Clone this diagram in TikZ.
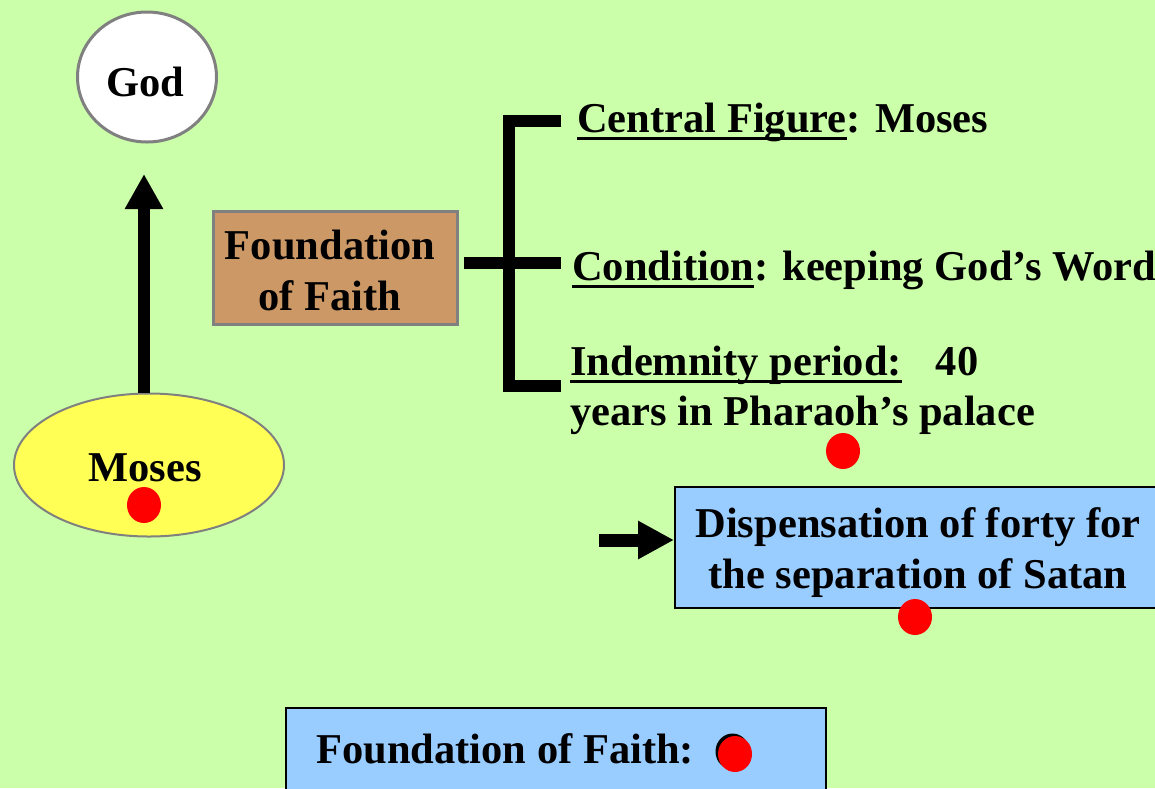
\documentclass[tikz,border=0pt]{standalone}
\usepackage{fontspec}
\setmainfont{Liberation Serif}
\usetikzlibrary{shapes.geometric,arrows.meta}
\definecolor{bg}{RGB}{204,255,170}
\definecolor{bordergray}{RGB}{128,128,128}
\definecolor{mosesyellow}{RGB}{255,255,85}
\definecolor{fofbrown}{RGB}{204,153,102}
\definecolor{boxblue}{RGB}{153,204,255}
\newsavebox\ulbox
\newcommand\ulrule[1]{\sbox\ulbox{#1}\rlap{\rule[-8pt]{\wd\ulbox}{3pt}}\usebox\ulbox}
\begin{document}
\begin{tikzpicture}[x=1pt,y=-1pt,
  txt/.style={font=\fontsize{42.5}{51}\selectfont\bfseries, inner sep=0pt},
  reddot/.style={ellipse, fill=red, minimum width=34pt, minimum height=36pt, inner sep=0pt},
  fatarrow/.style={line width=12pt, -{Triangle[length=35pt,width=36pt]}},
  bracketline/.style={line width=12pt},
  bluebox/.style={rectangle, draw=black, line width=2pt, fill=boxblue, inner sep=0pt}]
\useasboundingbox (0,0) rectangle (1155,788);
\fill[bg] (0,0) rectangle (1155,788);

% God
\node[ellipse, draw=bordergray, line width=3pt, fill=white, minimum width=139pt, minimum height=130pt, inner sep=0pt] (god) at (147,77) {};
\node[txt, anchor=base] (godlabel) at (145,96) {God};

% Moses
\node[ellipse, draw=bordergray, line width=2pt, fill=mosesyellow, minimum width=270pt, minimum height=143pt, inner sep=0pt] (moses) at (149,465) {};
\node[txt, anchor=base] (moseslabel) at (145,481) {Moses};
\node[reddot] (dot1) at (144,505) {};

\coordinate (godtip) at (144,174);
\draw[fatarrow] (godtip |- moses.north) -- (godtip);

% Foundation of Faith box
\node[rectangle, draw=bordergray, line width=3pt, fill=fofbrown, minimum width=244pt, minimum height=113pt, inner sep=0pt] (fof) at (335.5,268) {};
\node[txt, align=center] (foflabel) at (330,270) {Foundation\\of Faith};

% bracket
\coordinate (bt) at (561,121);
\coordinate (bm) at (561,263);
\coordinate (bb) at (561,386);
\draw[bracketline, line join=miter] (bt) -- (509,121) -- (509,386) -- (bb);
\draw[bracketline] ([xshift=5pt]fof.east |- bm) -- (bm);

\node[txt, anchor=base west] (central) at (577,132) {\ulrule{Central Figure}: Moses};
\node[txt, anchor=base west] (condition) at (572,280) {\ulrule{Condition}: keeping God’s Word};
\node[txt, anchor=base west] (indem) at (570,375) {\ulrule{Indemnity period:}\hspace{34pt}40};
\node[txt, anchor=base west] (years) at (570,425) {years in Pharaoh’s palace};
\node[reddot] (dot2) at (843,451) {};

% Dispensation box
\node[bluebox, minimum width=482pt, minimum height=121pt] (disp) at (916,547.5) {};
\node[txt, align=center] (displabel) at (918,552.5) {Dispensation of forty for\\the separation of Satan};
\node[reddot] (dot3) at (915,617) {};
\coordinate (arrtail) at (599,540);
\draw[line width=13pt, -{Triangle[length=36pt,width=36pt]}] (arrtail) -- (arrtail -| disp.west);

% bottom box
\node[bluebox, minimum width=540pt, minimum height=110pt] (fofbox) at (555.5,763) {};
\node[txt, anchor=base west] (foflabel2) at (316,763) {Foundation of Faith:};
\node[ellipse, fill=black, minimum width=34pt, minimum height=36pt, inner sep=0pt] (dot4shadow) at (732.5,751.5) {};
\node[reddot] (dot4) at (735,754) {};
\end{tikzpicture}
\end{document}
